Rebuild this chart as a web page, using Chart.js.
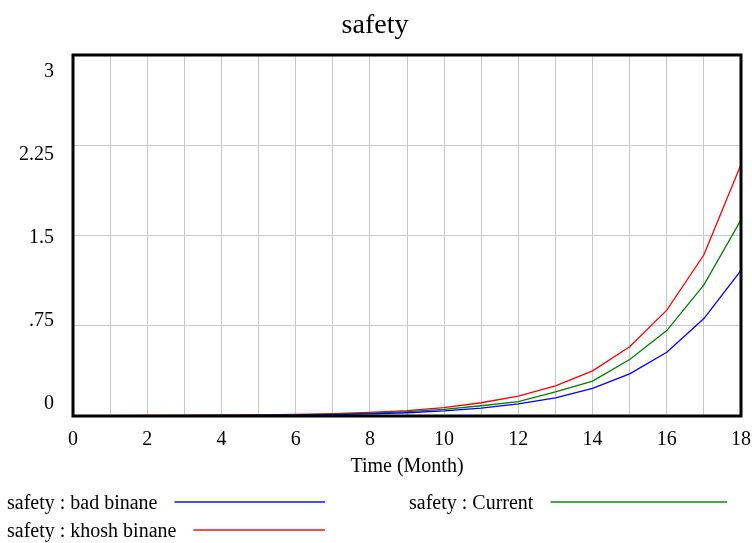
<!DOCTYPE html>
<html>
<head>
    <meta charset="utf-8">
    <script src="https://cdn.jsdelivr.net/npm/chart.js@4.4.0/dist/chart.umd.min.js"></script>
    <style>
        html, body { margin: 0; padding: 0; background: #fff; }
        #wrap { width: 752px; height: 543px; }
    </style>
</head>
<body>
    <div id="wrap"><canvas id="plot" width="752" height="543"></canvas></div>
    <script>
        // time axis (months)
        var months = [0, 1, 2, 3, 4, 5, 6, 7, 8, 9, 10, 11, 12, 13, 14, 15, 16, 17, 18]
        // values
        var badBinane = [0.001, 0.001, 0.002, 0.003, 0.004, 0.005, 0.008, 0.012, 0.018, 0.027, 0.042, 0.065, 0.10, 0.15, 0.23, 0.35, 0.53, 0.81, 1.21]
        var current = [0.001, 0.002, 0.003, 0.004, 0.005, 0.007, 0.010, 0.016, 0.024, 0.036, 0.055, 0.085, 0.12, 0.20, 0.29, 0.47, 0.71, 1.09, 1.63]
        var khoshBinane = [0.002, 0.003, 0.004, 0.005, 0.007, 0.009, 0.013, 0.020, 0.030, 0.045, 0.070, 0.11, 0.165, 0.25, 0.375, 0.575, 0.88, 1.34, 2.09]
        var yTicks = [0, 0.75, 1.5, 2.25, 3]
        var yTickLabels = ['0', '.75', '1.5', '2.25', '3']

        var FONT = 'Liberation Serif, Times New Roman, serif'

        function pts(ys) {
            var out = []
            for (var i = 0; i < months.length; i++) {
                out.push({ x: months[i], y: ys[i] })
            }
            return out
        }

        // legend drawn like the Vensim one: two columns, text then a line
        var vensimLegend = {
            id: 'vensimLegend',
            afterDraw: function (chart) {
                var ctx = chart.ctx
                var area = chart.chartArea
                var colX = [7, 409]
                var colEnd = [325, 727]
                var rowY = [area.bottom + 86, area.bottom + 114]
                ctx.save()
                ctx.font = '20px ' + FONT
                ctx.textBaseline = 'middle'
                ctx.fillStyle = '#000'
                chart.data.datasets.forEach(function (ds, i) {
                    var c = i % 2, r = Math.floor(i / 2)
                    ctx.fillText(ds.label, colX[c], rowY[r] + 2)
                    var w = ctx.measureText(ds.label).width
                    ctx.strokeStyle = ds.legendColor
                    ctx.lineWidth = 2
                    ctx.beginPath()
                    ctx.moveTo(colX[c] + w + 17, rowY[r])
                    ctx.lineTo(colEnd[c], rowY[r])
                    ctx.stroke()
                })
                ctx.restore()
            }
        }

        var frame = {
            id: 'frame',
            afterDatasetsDraw: function (chart) {
                var a = chart.chartArea
                var ctx = chart.ctx
                ctx.save()
                ctx.strokeStyle = '#000'
                ctx.lineWidth = 3
                ctx.strokeRect(a.left, a.top, a.right - a.left, a.bottom - a.top)
                ctx.restore()
            }
        }

        var plot = new Chart(document.getElementById('plot'), {
            type: 'line',
            data: {
                datasets: [{
                    label: 'safety : bad binane',
                    data: pts(badBinane),
                    borderColor: '#0000ff',
                    legendColor: '#4a4aff',
                    borderWidth: 1.3
                }, {
                    label: 'safety : Current',
                    data: pts(current),
                    borderColor: '#008000',
                    legendColor: '#4aa64a',
                    borderWidth: 1.3
                }, {
                    label: 'safety : khosh binane',
                    data: pts(khoshBinane),
                    borderColor: '#ff0000',
                    legendColor: '#ff4a4a',
                    borderWidth: 1.3
                }]
            },
            options: {
                responsive: false,
                animation: false,
                elements: { point: { radius: 0 }, line: { tension: 0 } },
                layout: { padding: { left: 0, right: 2, top: 0, bottom: 64 } },
                plugins: {
                    legend: { display: false },
                    tooltip: { enabled: false },
                    title: {
                        display: true,
                        text: 'safety',
                        color: '#000',
                        font: { family: FONT, size: 28, weight: 'normal' },
                        padding: { top: 9, bottom: 12.4 }
                    }
                },
                scales: {
                    x: {
                        type: 'linear',
                        min: 0,
                        max: 18,
                        grid: { color: '#c8c8c8', lineWidth: 1, drawTicks: false },
                        border: { display: false },
                        // end labels may hang past the frame, like in Vensim
                        afterFit: function (s) {
                            s.paddingLeft = 0
                            s.paddingRight = 11
                        },
                        ticks: {
                            stepSize: 1,
                            autoSkip: false,
                            maxRotation: 0,
                            padding: 12,
                            color: '#000',
                            font: { family: FONT, size: 20 },
                            callback: function (v) { return v % 2 === 0 ? String(v) : '' }
                        },
                        title: {
                            display: true,
                            text: 'Time (Month)',
                            color: '#000',
                            font: { family: FONT, size: 20 },
                            padding: { top: -9, bottom: 0 }
                        }
                    },
                    y: {
                        type: 'linear',
                        position: 'left',
                        min: 0,
                        max: 3,
                        grid: { color: '#c8c8c8', lineWidth: 1, drawTicks: false },
                        border: { display: false },
                        ticks: { display: false, stepSize: 0.75 }
                    },
                    // label-only axis, Vensim spreads its labels a bit differently from the grid
                    yl: {
                        type: 'linear',
                        position: 'left',
                        min: -0.1133,
                        max: 3.1495,
                        grid: { display: false, drawTicks: false },
                        border: { display: false },
                        afterBuildTicks: function (s) {
                            s.ticks = yTicks.map(function (v) { return { value: v } })
                        },
                        ticks: {
                            padding: 19,
                            color: '#000',
                            font: { family: FONT, size: 20 },
                            callback: function (v, i) { return yTickLabels[i] }
                        }
                    }
                }
            },
            plugins: [frame, vensimLegend]
        })
    </script>
</body>
</html>
